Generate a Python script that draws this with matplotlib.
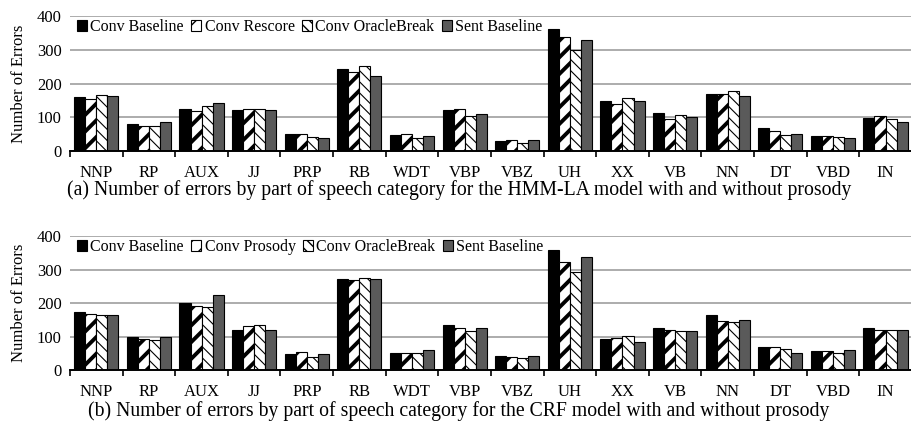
import numpy as np
import matplotlib
matplotlib.use("Agg")
import matplotlib.pyplot as plt

plt.rcParams["font.family"] = ["Liberation Serif", "DejaVu Serif"]

categories = ["NNP", "RP", "AUX", "JJ", "PRP", "RB", "WDT", "VBP", "VBZ",
              "UH", "XX", "VB", "NN", "DT", "VBD", "IN"]

# (a) HMM-LA model
hmm_conv_baseline = [160, 81, 124, 122, 50, 243, 48, 121, 30, 363, 150, 113, 168, 68, 45, 99]
hmm_conv_rescore = [155, 73, 119, 126, 51, 235, 51, 126, 32, 339, 141, 96, 168, 60, 46, 105]
hmm_conv_oracle = [167, 75, 134, 125, 41, 253, 38, 105, 24, 299, 158, 106, 177, 47, 42, 94]
hmm_sent_baseline = [163, 85, 144, 123, 40, 224, 44, 110, 34, 328, 149, 102, 162, 51, 38, 87]

# (b) CRF model
crf_conv_baseline = [173, 98, 200, 120, 49, 273, 51, 135, 43, 359, 92, 127, 165, 69, 58, 127]
crf_conv_prosody = [167, 93, 192, 132, 55, 269, 51, 127, 39, 322, 96, 121, 147, 69, 56, 119]
crf_conv_oracle = [165, 89, 188, 134, 40, 276, 51, 116, 36, 294, 101, 118, 143, 62, 52, 119]
crf_sent_baseline = [163, 98, 225, 121, 49, 271, 60, 127, 41, 337, 83, 118, 151, 52, 59, 119]

captions = [
    "(a) Number of errors by part of speech category for the HMM-LA model with and without prosody",
    "(b) Number of errors by part of speech category for the CRF model with and without prosody",
]

# fill / hatch per series: solid black, thick "/", thin "\", dark gray
STYLES = [
    dict(facecolor="black", hatch=None, hlw=1.0),
    dict(facecolor="white", hatch="//", hlw=2.8),
    dict(facecolor="white", hatch="\\\\\\", hlw=0.8),
    dict(facecolor="#5a5a5a", hatch=None, hlw=1.0),
]


def draw_panel(ax, series, labels):
    x = np.arange(len(categories))
    width = 0.21
    offsets = (np.arange(4) - 1.5) * width
    for vals, lab, off, st in zip(series, labels, offsets, STYLES):
        with plt.rc_context({"hatch.linewidth": st["hlw"]}):
            bars = ax.bar(x + off, vals, width, facecolor=st["facecolor"],
                          edgecolor="black", linewidth=0.8, hatch=st["hatch"],
                          label=lab, zorder=3)
        for b in bars:
            if hasattr(b, "set_hatch_linewidth"):
                b.set_hatch_linewidth(st["hlw"])

    ax.set_xlim(-0.5, len(categories) - 0.5)
    ax.set_ylim(0, 400)
    ax.set_yticks([0, 100, 200, 300, 400])
    ax.yaxis.grid(True, color="#a6a6a6", linewidth=1.3, zorder=0)
    ax.set_axisbelow(True)
    for s in ("top", "right", "left"):
        ax.spines[s].set_visible(False)
    ax.spines["bottom"].set_linewidth(1.4)
    ax.spines["bottom"].set_zorder(4)

    # labels centred under groups, tick marks at group boundaries
    ax.set_xticks(x)
    ax.set_xticklabels(categories, fontsize=12)
    ax.set_xticks(np.arange(len(categories) + 1) - 0.5, minor=True)
    ax.tick_params(axis="x", which="major", length=0, pad=10)
    ax.tick_params(axis="x", which="minor", length=4.5, width=1.2, direction="out")
    ax.tick_params(axis="y", length=0, pad=6, labelsize=12)
    ax.set_ylabel("Number of Errors", fontsize=12, labelpad=4)

    ax.legend(loc="center left", bbox_to_anchor=(0.008, 0.918), ncol=4,
              frameon=False, fontsize=11.5, handlelength=0.65, handleheight=0.65,
              handletextpad=0.2, columnspacing=0.45, borderpad=0, borderaxespad=0)


fig = plt.figure(figsize=(9.12, 4.38), dpi=100)
ax1 = fig.add_axes([0.0768, 0.655, 0.923, 0.308])
ax2 = fig.add_axes([0.0768, 0.155, 0.923, 0.306])

draw_panel(ax1, [hmm_conv_baseline, hmm_conv_rescore, hmm_conv_oracle, hmm_sent_baseline],
           ["Conv Baseline", "Conv Rescore", "Conv OracleBreak", "Sent Baseline"])
draw_panel(ax2, [crf_conv_baseline, crf_conv_prosody, crf_conv_oracle, crf_sent_baseline],
           ["Conv Baseline", "Conv Prosody", "Conv OracleBreak", "Sent Baseline"])

for ax in (ax1, ax2):
    ax.yaxis.set_label_coords(-0.051, 0.5)

fig.text(0.503, 0.566, captions[0], ha="center", va="center", fontsize=14.2)
fig.text(0.503, 0.062, captions[1], ha="center", va="center", fontsize=14.2)

fig.savefig("out.png", dpi=100)
